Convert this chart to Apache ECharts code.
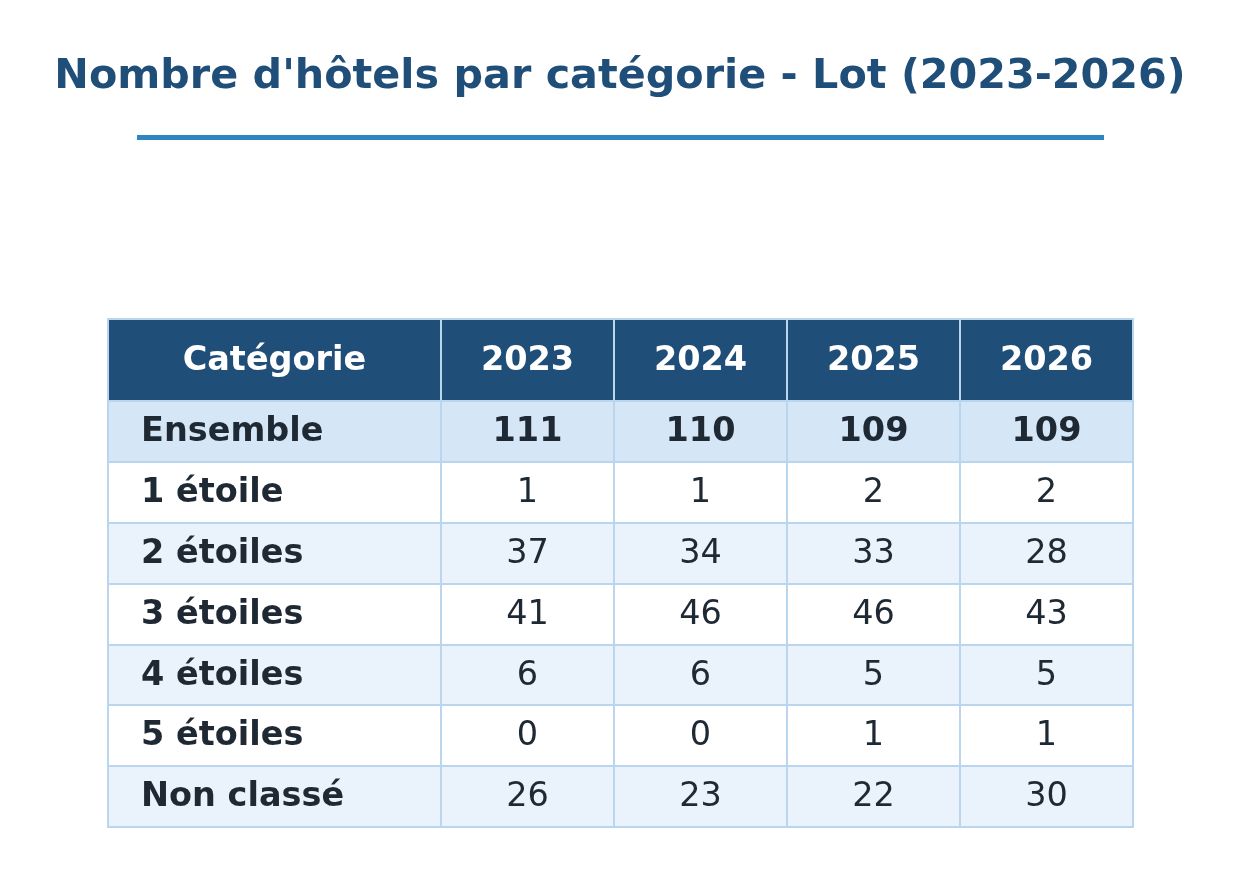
<!DOCTYPE html>
<html>
<head>
<meta charset="utf-8">
<script src="https://cdn.jsdelivr.net/npm/echarts@6/dist/echarts.min.js"></script>
<style>
  html, body { margin: 0; padding: 0; background: #ffffff; }
  #chart { width: 1240px; height: 882px; }
</style>
</head>
<body>
<div id="chart"></div>
<script>
// table content
var headers = ['Catégorie', '2023', '2024', '2025', '2026'];
var categories = ['Ensemble', '1 étoile', '2 étoiles', '3 étoiles', '4 étoiles', '5 étoiles', 'Non classé'];
var v2023 = [111, 1, 37, 41, 6, 0, 26];
var v2024 = [110, 1, 34, 46, 6, 0, 23];
var v2025 = [109, 2, 33, 46, 5, 1, 22];
var v2026 = [109, 2, 28, 43, 5, 1, 30];

// layout of the grid (pixel units inside the table)
var colEdges = [0, 333, 506, 679, 852, 1025];
var rowEdges = [0, 82, 143, 204, 265, 326, 386, 447, 508];

var yearCols = [v2023, v2024, v2025, v2026];
var cells = [];
headers.forEach(function (h, c) {
    cells.push([c, 0, h]);
});
categories.forEach(function (cat, i) {
    cells.push([0, i + 1, cat]);
    yearCols.forEach(function (vals, j) {
        cells.push([j + 1, i + 1, String(vals[i])]);
    });
});

function renderCell(params, api) {
    var c = api.value(0), r = api.value(1);
    var text = cells[params.dataIndex][2];
    var p0 = api.coord([colEdges[c], rowEdges[r]]);
    var p1 = api.coord([colEdges[c + 1], rowEdges[r + 1]]);
    var fill, color, weight;
    if (r === 0) {
        fill = '#1f4e79'; color = '#ffffff'; weight = 'bold';
    } else if (r === 1) {
        fill = '#d5e6f7'; color = '#1f2933'; weight = 'bold';
    } else {
        fill = (r % 2 === 0) ? '#ffffff' : '#eaf2fb';
        color = '#1f2933';
        weight = (c === 0) ? 'bold' : 'normal';
    }
    var left = (c === 0 && r > 0);
    return {
        type: 'group',
        children: [{
            type: 'rect',
            shape: { x: p0[0], y: p0[1], width: p1[0] - p0[0], height: p1[1] - p0[1] },
            style: { fill: fill, stroke: '#bad5ee', lineWidth: 2 }
        }, {
            type: 'text',
            style: {
                x: left ? p0[0] + 33 : (p0[0] + p1[0]) / 2,
                y: (p0[1] + p1[1]) / 2 + 1,
                text: text,
                fill: color,
                font: weight + ' 33.5px "DejaVu Sans"',
                align: left ? 'left' : 'center',
                verticalAlign: 'middle'
            }
        }]
    };
}

var chart = echarts.init(document.getElementById('chart'));
chart.setOption({
    backgroundColor: '#ffffff',
    title: {
        text: "Nombre d'hôtels par catégorie - Lot (2023-2026)",
        left: 'center',
        top: 52,
        textStyle: {
            fontFamily: 'DejaVu Sans',
            fontWeight: 'bold',
            fontSize: 41.3,
            color: '#1f4e79'
        }
    },
    graphic: [{
        type: 'rect',
        shape: { x: 137, y: 135, width: 967, height: 5 },
        style: { fill: '#2e86c1' }
    }],
    grid: { left: 108, top: 319, width: 1025, height: 508 },
    xAxis: { type: 'value', min: 0, max: 1025, show: false },
    yAxis: { type: 'value', min: 0, max: 508, inverse: true, show: false },
    series: [{
        type: 'custom',
        renderItem: renderCell,
        data: cells.map(function (d) { return [d[0], d[1]]; }),
        animation: false
    }]
});
</script>
</body>
</html>
